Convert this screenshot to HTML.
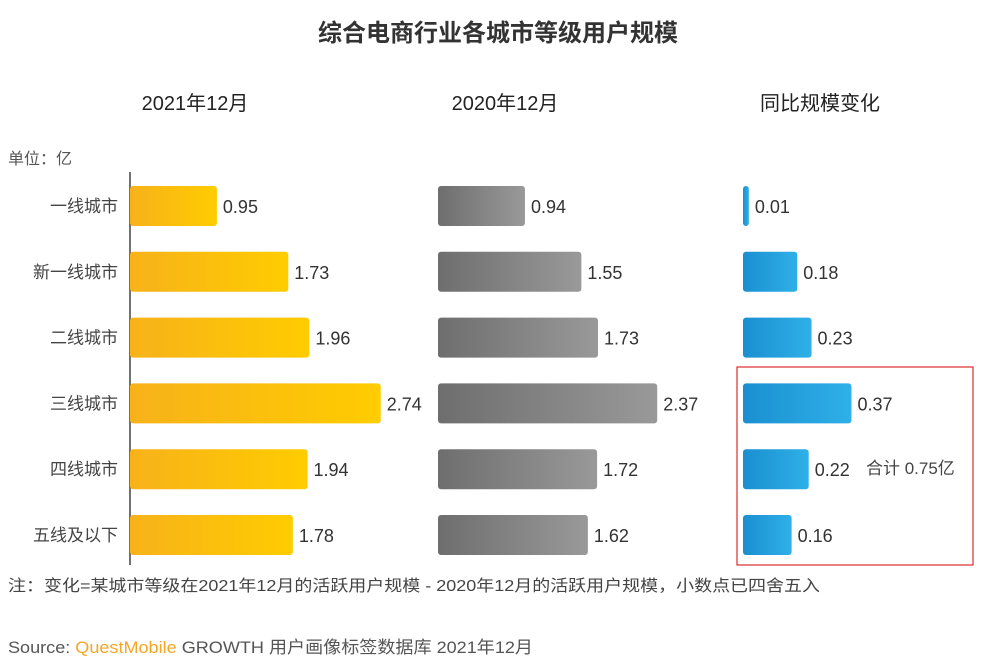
<!DOCTYPE html>
<html><head><meta charset="utf-8"><style>
body{margin:0;width:996px;height:665px;background:#fff;overflow:hidden;font-family:"Liberation Sans","Noto Sans CJK SC",sans-serif;}
svg text{font-family:"Liberation Sans","Noto Sans CJK SC",sans-serif;}
</style></head><body>
<svg id="c" width="996" height="665">
<defs>
<linearGradient id="gy" x1="0" x2="1"><stop offset="0" stop-color="#f7b21a"/><stop offset="1" stop-color="#ffcc00"/></linearGradient>
<linearGradient id="gg" x1="0" x2="1"><stop offset="0" stop-color="#6e6e6e"/><stop offset="1" stop-color="#999"/></linearGradient>
<linearGradient id="gb" x1="0" x2="1"><stop offset="0" stop-color="#1a8fd0"/><stop offset="1" stop-color="#2fb0e8"/></linearGradient>
</defs>
<text x="498" y="41" text-anchor="middle" font-size="24" font-weight="bold" fill="#333">综合电商行业各城市等级用户规模</text>
<text x="195" y="110" text-anchor="middle" font-size="20" fill="#222">2021年12月</text>
<text x="505" y="110" text-anchor="middle" font-size="20" fill="#222">2020年12月</text>
<text x="820" y="110" text-anchor="middle" font-size="20" fill="#222">同比规模变化</text>
<text x="8" y="164" font-size="16" fill="#555">单位：亿</text>
<line x1="130" y1="172" x2="130" y2="565" stroke="#444" stroke-width="1.5"/>
<rect x="737" y="367" width="236" height="198" fill="none" stroke="#e03c3c" stroke-width="1.3"/>
<text x="866" y="474" font-size="17" fill="#444">合计 0.75亿</text>
<text x="8" y="591" font-size="16" fill="#444" textLength="812" lengthAdjust="spacingAndGlyphs">注：变化=某城市等级在2021年12月的活跃用户规模 - 2020年12月的活跃用户规模，小数点已四舍五入</text>
<text x="8" y="653" font-size="17" fill="#555" textLength="525" lengthAdjust="spacingAndGlyphs">Source: <tspan fill="#f5a623">QuestMobile</tspan> GROWTH 用户画像标签数据库 2021年12月</text>
</svg>
<script>
const categories=["一线城市","新一线城市","二线城市","三线城市","四线城市","五线及以下"];
const values2021=[0.95,1.73,1.96,2.74,1.94,1.78];
const values2020=[0.94,1.55,1.73,2.37,1.72,1.62];
const valuesChange=[0.01,0.18,0.23,0.37,0.22,0.16];
const svg=document.getElementById('c');
const NS='http://www.w3.org/2000/svg';
function rowY(i){return 206+i*65.8;}
function mk(tag,a){const e=document.createElementNS(NS,tag);for(const k in a)e.setAttribute(k,a[k]);svg.appendChild(e);return e;}
const groups=[
 {vals:values2021,x0:130,s:91.5,off:0,fill:'url(#gy)',n:'bar-2021'},
 {vals:values2020,x0:438,s:92.5,off:0,fill:'url(#gg)',n:'bar-2020'},
 {vals:valuesChange,x0:743,s:285,off:3,fill:'url(#gb)',n:'bar-change'}];
categories.forEach((c,i)=>{
 const y=rowY(i);
 const t=mk('text',{x:118,y:y+6,'text-anchor':'end','font-size':17,fill:'#444'});
 t.textContent=c;
 
 
 groups.forEach(g=>{
  const w=g.off+g.vals[i]*g.s;
  const r=mk('rect',{x:g.x0,y:y-20,width:w,height:40,rx:3,fill:g.fill});
  
  
  const v=mk('text',{x:g.x0+w+6,y:y+7,'font-size':18,fill:'#333'});
  v.textContent=g.vals[i].toFixed(2);
  
  
 });
});
</script>
</body></html>
